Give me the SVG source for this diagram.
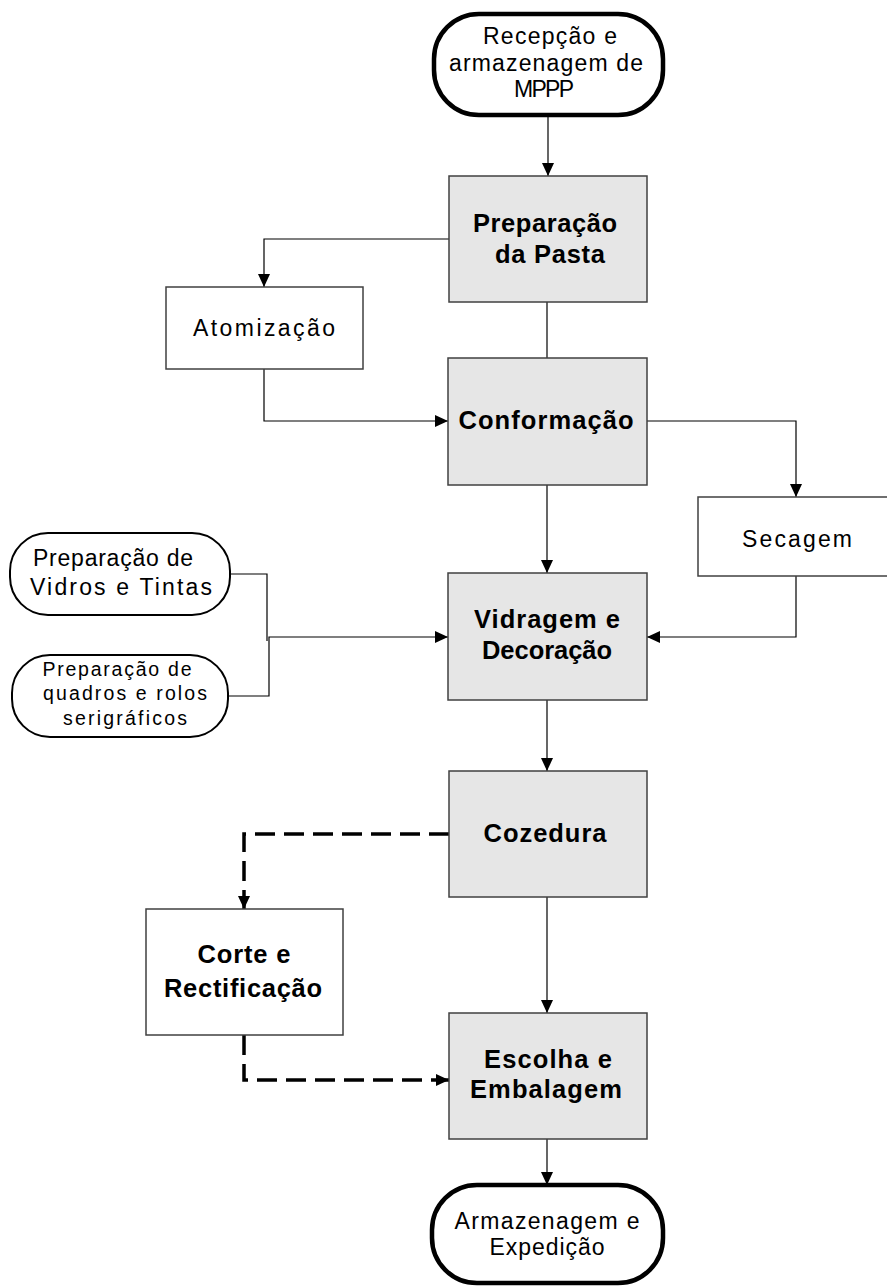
<svg xmlns="http://www.w3.org/2000/svg" width="887" height="1287" viewBox="0 0 887 1287">
<style>
.t{font-family:"Liberation Sans",Arial,sans-serif;fill:#000;text-anchor:middle}
.r{font-size:23px}
.s{font-size:19.5px}
.b{font-size:25.5px;font-weight:bold}
.box{fill:#fff;stroke:#404040;stroke-width:1.5}
.gray{fill:#e6e6e6;stroke:#404040;stroke-width:1.5}
.term{fill:#fff;stroke:#000;stroke-width:4.5}
.term2{fill:#fff;stroke:#000;stroke-width:2}
.c{fill:none;stroke:#000;stroke-width:1.2}
.d{fill:none;stroke:#000;stroke-width:3.5;stroke-dasharray:20 9}
</style>
<defs>
<marker id="a" markerUnits="userSpaceOnUse" markerWidth="13" markerHeight="12" refX="13" refY="6" orient="auto" viewBox="0 0 13 12">
<path d="M0,0 L13,6 L0,12 z" fill="#000"/>
</marker>
</defs>
<g id="connectors">
<path class="c" d="M548,115 V176" marker-end="url(#a)"/>
<path class="c" d="M449,239 H264 V287" marker-end="url(#a)"/>
<path class="c" d="M547,302 V358"/>
<path class="c" d="M264,369 V421 H448" marker-end="url(#a)"/>
<path class="c" d="M647,421 H796 V497" marker-end="url(#a)"/>
<path class="c" d="M547,485 V573" marker-end="url(#a)"/>
<path class="c" d="M796,576 V637 H647" marker-end="url(#a)"/>
<path class="c" d="M230,574 H267 V641"/>
<path class="c" d="M228,696 H269 V637 H448" marker-end="url(#a)"/>
<path class="c" d="M547,700 V771" marker-end="url(#a)"/>
<path class="d" d="M449,834 H244 V909" marker-end="url(#a)"/>
<path class="c" d="M547,897 V1013" marker-end="url(#a)"/>
<path class="d" d="M244,1035 V1080 H449" marker-end="url(#a)"/>
<path class="c" d="M547,1139 V1185" marker-end="url(#a)"/>
</g>
<g id="n1">
<rect class="term" x="434" y="14" width="229" height="101" rx="45"/>
<text class="t r" x="550" y="44" textLength="134" lengthAdjust="spacing">Recepção e</text>
<text class="t r" x="546" y="71" textLength="194" lengthAdjust="spacing">armazenagem de</text>
<text class="t r" x="544" y="97" textLength="60" lengthAdjust="spacing">MPPP</text>
</g>
<g id="n2">
<rect class="gray" x="449" y="176" width="198" height="126"/>
<text class="t b" x="545" y="232" textLength="144" lengthAdjust="spacing">Preparação</text>
<text class="t b" x="550" y="263" textLength="110" lengthAdjust="spacing">da Pasta</text>
</g>
<g id="n3">
<rect class="box" x="166" y="287" width="197" height="82"/>
<text class="t r" x="264" y="336" textLength="142" lengthAdjust="spacing">Atomização</text>
</g>
<g id="n4">
<rect class="gray" x="448" y="358" width="199" height="127"/>
<text class="t b" x="546" y="429" textLength="175" lengthAdjust="spacing">Conformação</text>
</g>
<g id="n5">
<rect class="box" x="698" y="497" width="195" height="79"/>
<text class="t r" x="797" y="547" textLength="110" lengthAdjust="spacing">Secagem</text>
</g>
<g id="n6">
<rect class="gray" x="448" y="573" width="199" height="127"/>
<text class="t b" x="547" y="628" textLength="146" lengthAdjust="spacing">Vidragem e</text>
<text class="t b" x="547" y="659" textLength="130" lengthAdjust="spacing">Decoração</text>
</g>
<g id="n7">
<rect class="term2" x="10" y="533" width="220" height="82" rx="38"/>
<text class="t r" x="113" y="566" textLength="160" lengthAdjust="spacing">Preparação de</text>
<text class="t r" x="121" y="595" textLength="182" lengthAdjust="spacing">Vidros e Tintas</text>
</g>
<g id="n8">
<rect class="term2" x="12" y="655" width="216" height="82" rx="38"/>
<text class="t s" x="117" y="676" textLength="149" lengthAdjust="spacing">Preparação de</text>
<text class="t s" x="125" y="700" textLength="164" lengthAdjust="spacing">quadros e rolos</text>
<text class="t s" x="125" y="725" textLength="124" lengthAdjust="spacing">serigráficos</text>
</g>
<g id="n9">
<rect class="gray" x="449" y="771" width="198" height="126"/>
<text class="t b" x="545" y="842" textLength="123" lengthAdjust="spacing">Cozedura</text>
</g>
<g id="n10">
<rect class="box" x="146" y="909" width="197" height="126"/>
<text class="t b" x="244" y="963" textLength="93" lengthAdjust="spacing">Corte e</text>
<text class="t b" x="243" y="997" textLength="158" lengthAdjust="spacing">Rectificação</text>
</g>
<g id="n11">
<rect class="gray" x="449" y="1013" width="198" height="126"/>
<text class="t b" x="548" y="1068" textLength="128" lengthAdjust="spacing">Escolha e</text>
<text class="t b" x="546" y="1098" textLength="152" lengthAdjust="spacing">Embalagem</text>
</g>
<g id="n12">
<rect class="term" x="432" y="1185" width="231" height="98" rx="45"/>
<text class="t r" x="547" y="1229" textLength="185" lengthAdjust="spacing">Armazenagem e</text>
<text class="t r" x="547" y="1255" textLength="115" lengthAdjust="spacing">Expedição</text>
</g>
</svg>
